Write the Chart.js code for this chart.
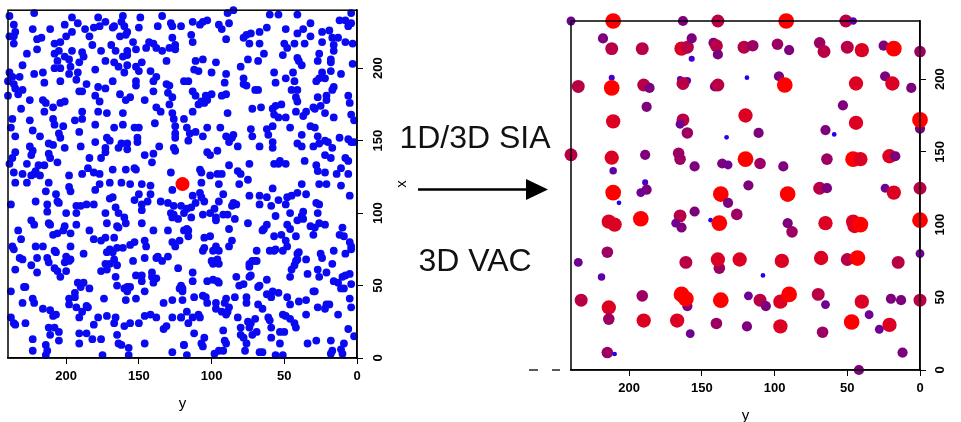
<!DOCTYPE html>
<html>
<head>
<meta charset="utf-8">
<script src="https://cdn.jsdelivr.net/npm/chart.js@4.4.1/dist/chart.umd.min.js"></script>
<style>
  body { margin: 0; width: 961px; height: 422px; position: relative; background: #fff; overflow: hidden; font-family: "Liberation Sans", Arial, sans-serif; }
  canvas { position: absolute; top: 0; }
  .caption { position: absolute; left: 375px; width: 200px; text-align: center; font-size: 32px; line-height: 32px; color: #111; }
</style>
</head>
<body>
<canvas id="freeChart" width="415" height="422" style="left:0"></canvas>
<canvas id="clusterChart" width="471" height="422" style="left:490px"></canvas>
<div class="caption" style="top:121px">1D/3D SIA</div>
<div class="caption" style="top:244px">3D VAC</div>
<svg width="961" height="422" style="position:absolute;left:0;top:0">
  <line x1="418" y1="189.5" x2="528" y2="189.5" stroke="#000" stroke-width="2.6"/>
  <polygon points="526,179 548,189.5 526,200" fill="#000"/>
  <line x1="529" y1="370" x2="538" y2="370" stroke="#000" stroke-width="1.3"/>
  <line x1="552" y1="370" x2="560" y2="370" stroke="#000" stroke-width="1.3"/>
</svg>
<script>
// axis range and ticks (both panels)
const axisMin = 0;
const axisMax = 240;
const tickStep = 50;

// left panel: defects before annealing, [y, x]
const blueDots = [
[239,236],[222,238],[236,230],[196,235],[178,235],[161,236],[149,235],[134,236],[201,230],[192,231],[177,229],[173,232],[167,229],[162,232],[160,229],[128,231],[127,229],[137,229],
[235,225],[239,222],[236,222],[223,227],[211,227],[196,225],[187,227],[181,228],[168,228],[158,225],[150,228],[200,222],[217,221],[220,220],[236,217],[208,217],[204,218],[184,222],[163,222],[159,223],[169,216],[182,216],[154,218],[143,218],[140,217],[127,221],[125,216],
[227,210],[220,213],[208,210],[205,212],[196,212],[189,211],[176,212],[166,212],[158,212],[152,213],[145,214],[138,214],[134,212],[129,214],[125,213],[131,205],[148,204],[158,209],[161,208],[198,206],[191,204],[206,205],[188,208],[201,208],
[230,202],[208,200],[204,200],[197,201],[173,205],[167,204],[164,201],[158,202],[152,201],[150,198],[239,197],[237,194],[232,194],[222,196],[216,197],[198,196],[192,197],[180,199],[160,197],[142,198],[138,194],[129,188],
[240,191],[236,189],[235,186],[230,185],[240,181],[233,182],[215,190],[204,191],[193,192],[186,189],[191,184],[189,184],[178,187],[173,186],[168,191],[163,182],[159,178],[156,180],[152,191],[152,188],[140,191],[140,184],[131,189],[130,183],[127,180],
[225,178],[216,178],[214,176],[209,173],[204,176],[201,177],[180,181],[177,177],[231,172],[215,170],[189,170],[178,170],[172,169],[161,169],[146,178],[138,173],[135,170],[129,175],[127,169],[126,165],
[237,165],[225,164],[209,165],[194,164],[189,165],[180,161],[167,159],[161,161],[153,159],[150,159],[139,162],[125,160],[238,159],[208,161],[202,160],
[235,153],[223,157],[218,153],[205,155],[204,152],[191,156],[180,149],[172,152],[170,150],[162,148],[158,148],[151,152],[151,149],[136,146],[125,155],[125,152],[212,148],[209,147],
[225,146],[223,143],[224,140],[212,141],[211,138],[206,135],[201,145],[190,146],[184,138],[176,138],[173,145],[173,142],[164,145],[158,144],[146,140],[140,141],[141,135],[126,145],[125,143],[237,138],[235,142],
[239,134],[227,134],[219,133],[221,129],[215,133],[236,128],[230,127],[224,126],[222,127],[218,126],[198,126],[189,127],[185,131],[181,128],[177,127],[168,130],[159,130],[153,131],[152,130],[128,128],
[89,238],[85,240],[60,237],[54,237],[41,237],[4,238],[113,232],[108,230],[106,232],[103,233],[95,230],[93,227],[88,231],[114,223],[113,218],[121,229],[90,220],[78,221],[76,223],[73,224],[67,225],[62,228],[74,217],[67,217],[49,227],[41,224],[37,227],[32,231],[32,222],[43,217],[50,217],[48,214],[36,217],[24,225],[19,226],[24,218],[17,221],[13,221],[12,233],[8,233],[6,229],[4,231],[16,216],[8,218],[3,217],[16,212],
[64,210],[51,209],[41,207],[38,202],[40,205],[26,210],[18,206],[18,204],[27,205],[111,205],[106,206],[97,204],[112,199],[109,198],[100,197],[90,196],[80,201],[75,206],[68,205],[57,197],[56,190],[49,193],[44,197],[43,191],[28,191],[26,193],[22,193],[24,197],[18,198],[11,196],[16,187],[17,185],[3,203],[78,193],[91,190],[119,191],[116,191],
[113,184],[111,181],[104,181],[100,182],[103,178],[93,181],[90,182],[78,189],[76,188],[70,185],[68,185],[45,185],[41,185],[42,180],[41,177],[52,175],[27,180],[21,178],[21,181],[6,181],[5,176],[109,175],[107,177],[105,176],[119,165],[113,170],[89,169],[72,172],[66,173],[58,172],[56,174],[57,168],[54,166],[49,166],[42,170],[37,167],[35,170],[30,173],[29,172],[25,174],[22,169],[16,166],[4,168],[2,164],
[117,159],[115,155],[116,150],[111,156],[106,153],[103,159],[94,159],[90,153],[86,152],[85,154],[88,149],[82,146],[73,158],[72,153],[62,158],[61,154],[58,160],[67,146],[58,149],[58,145],[46,159],[38,154],[41,148],[38,146],[32,160],[29,159],[27,153],[30,146],[26,148],[22,150],[20,149],[17,145],[12,152],[6,151],[4,149],[2,149],
[103,142],[101,140],[96,143],[74,134],[57,134],[54,134],[53,136],[49,134],[36,136],[28,133],[27,129],[22,140],[18,138],[22,128],[8,138],[6,136],[11,131],[14,127],[6,127],[108,130],[107,128],[101,126],[96,127],[93,127],[88,133],[82,129],[80,127],[75,123],
[235,121],[227,121],[212,121],[198,118],[197,115],[180,116],[177,120],[170,121],[162,121],[156,120],[148,120],[142,119],[127,116],[238,106],[221,108],[214,115],[213,106],[207,113],[206,108],[205,107],[193,105],[190,105],[186,106],[181,106],[170,110],[168,111],[153,109],[150,113],[148,106],[144,108],[142,113],[135,108],[130,107],[126,105],[121,105],[119,100],
[213,101],[200,100],[193,100],[173,100],[166,104],[164,100],[160,97],[159,93],[172,93],[184,88],[165,91],[164,90],[224,95],[222,92],[212,93],[211,92],[209,85],[206,86],[202,88],[201,91],[197,86],[193,92],[233,88],[140,88],[148,102],[148,93],[128,100],[127,97],[126,99],[123,96],[119,88],[130,88],
[231,82],[237,77],[236,75],[221,77],[216,77],[220,69],[213,69],[208,74],[207,73],[200,70],[197,77],[188,72],[181,82],[176,81],[173,83],[167,83],[165,76],[170,75],[172,73],[168,73],[167,68],[161,76],[156,78],[153,80],[146,81],[145,77],[154,67],[138,69],[137,70],[134,67],[130,70],[127,80],[125,77],[122,81],[146,69],[232,69],[230,68],
[235,61],[224,64],[220,59],[212,66],[208,62],[206,60],[204,56],[201,66],[198,67],[197,68],[200,60],[192,52],[188,52],[184,48],[190,49],[194,45],[176,60],[173,65],[172,61],[170,65],[165,64],[166,56],[165,50],[160,48],[158,49],[158,46],[156,49],[152,57],[148,57],[148,53],[146,46],[141,59],[141,56],[138,55],[140,52],[123,62],[122,48],[120,46],[229,49],[228,49],[238,46],
[230,38],[223,41],[222,38],[216,34],[211,33],[209,29],[207,30],[198,41],[198,37],[194,42],[193,35],[191,28],[189,32],[186,36],[185,35],[178,28],[174,41],[172,29],[166,28],[159,40],[152,41],[146,29],[142,30],[138,28],[133,38],[127,40],[127,28],[121,28],[238,28],[236,24],[235,23],[228,24],
[212,21],[208,21],[211,16],[205,18],[205,12],[191,17],[186,17],[182,13],[181,23],[176,13],[167,24],[165,16],[160,22],[156,24],[150,24],[146,10],[131,22],[133,20],[223,13],[223,5],[214,9],[213,5],[214,2],[191,10],[175,2],[164,10],[162,9],[157,7],[157,2],[127,4],[119,9],
[107,121],[95,120],[81,120],[58,117],[38,120],[26,120],[21,120],[11,119],[113,112],[108,114],[107,111],[111,107],[105,108],[114,104],[98,103],[95,108],[92,113],[85,107],[86,105],[83,106],[89,99],[74,112],[67,112],[62,111],[67,106],[59,105],[54,109],[48,111],[45,112],[49,106],[46,100],[41,114],[35,113],[37,101],[38,98],[28,107],[26,106],[27,100],[56,98],[5,112],[101,100],[106,99],[117,103],[97,97],[92,99],[114,97],
[117,89],[116,88],[116,84],[105,83],[101,84],[97,95],[88,89],[84,96],[75,93],[86,81],[88,77],[97,77],[99,74],[95,74],[64,89],[62,92],[65,88],[57,84],[52,85],[48,92],[46,89],[41,95],[42,84],[37,96],[32,91],[29,90],[30,85],[26,93],[22,92],[10,90],[12,85],[9,84],[5,80],[4,77],[4,75],[49,81],[48,77],[60,74],[57,74],[56,75],[51,74],[69,74],[74,65],[72,67],[69,67],[41,72],[41,68],[35,68],[40,73],[106,74],[105,76],[16,74],[8,72],[25,72],[24,69],
[113,59],[113,53],[103,53],[99,54],[96,53],[95,52],[100,67],[99,65],[98,66],[96,68],[95,65],[83,56],[74,56],[73,57],[68,49],[67,50],[62,54],[46,56],[45,61],[42,67],[43,64],[34,58],[27,61],[26,56],[21,59],[17,65],[16,53],[13,52],[10,56],[8,57],[5,58],[4,51],[9,48],[11,48],[121,50],[120,48],[81,50],[78,51],[70,67],[74,63],[58,46],[54,45],[59,42],[62,44],
[112,42],[106,43],[104,42],[103,38],[97,38],[91,38],[90,41],[88,35],[84,42],[76,42],[76,38],[68,37],[65,34],[48,42],[46,37],[40,39],[35,40],[30,46],[29,46],[21,37],[19,37],[22,34],[27,35],[13,30],[5,41],[4,35],[120,40],[117,32],[121,28],[116,24],[113,28],[109,30],[108,28],[97,34],[93,32],[90,30],[89,32],[82,28],[75,25],[73,24],[70,27],[61,28],[60,26],[51,30],[49,29],[46,27],[43,24],[35,30],[6,20],[2,15],
[112,17],[105,14],[107,10],[106,8],[92,19],[91,12],[90,10],[92,5],[95,5],[80,21],[80,16],[78,14],[74,21],[72,16],[69,18],[76,10],[77,5],[67,4],[65,4],[59,21],[59,14],[53,18],[50,18],[53,10],[42,21],[34,10],[28,12],[18,12],[17,5],[11,6],[9,10],[10,3],[119,9],[117,2],[98,3],[56,2],[51,2],[18,3]
];
const redDot = [[120, 120]];

// right panel: clusters after annealing, [y, x, cluster size]
const clusters = [
[240,240,2.5],[211,240,5],[163,240,3],[139,240,4],
[218,228,3],[212,221,4],[191,221,4],[164,221,4.5],[160,222,4],[157,228,3],[157,214,1.5],[142,225,3],[140,223,4],[139,217,3],[121,222,4],[115,223,3.5],
[212,201,1.5],[235,195,4],[212,194,5],[190,196,4],[186,194,3],[165,200,1.5],[160,199,2],[163,197,4],[141,195,3],[139,196,4],[119,201,1],
[188,181,3],[211,171,4.5],[163,172,4],[165,169,2.5],[160,163,3.5],[133,160,1],[120,175,4.5],[111,163,3],
[240,148,4],[212,146,4.5],[189,148,3],[166,149,3.5],[165,145,3.5],[155,140,3],[136,142,3],[132,141,2.5],[120,145,5],[110,142,3.5],
[211,137,2],[211,122,5],[189,129,1.5],[188,124,3],[192,122,2.5],[137,121,5],[118,127,3],
[92,240,5],[51,240,4],[46,240,2],
[98,224,3.5],[90,220,3],[69,225,3.5],[66,219,4],[50,222,4],[40,220,4.5],[25,223,3],[18,221,5],[0,219,3.5],
[97,202,3],[93,196,5],[44,197,4.5],[24,202,3],[19,197,4.5],[6,194,3],
[53,182,3],[44,170,4.5],[0,166,3],[0,172,5],[65,165,3],[59,162,1],
[64,145,3.5],[94,140,3],[46,145,5],[41,145,4.5],[21,147,4.5],[17,147,3],
[69,125,4],[64,125,3],[91,121,5],[24,125,2.5],[18,122,4.5],[0,125,4],
[207,115,1],[132,115,3],[214,102,4.5],[210,100,4.5],[192,104,5],[165,106,4],[155,109,3],[168,101,2.5],[164,98,3],[144,103,1],[138,101,5],[126,107,3.5],
[215,81,3.5],[235,74,2.5],[219,64,2],[161,74,4],[138,70,3.5],[139,76,4.5],[124,76,4.5],
[233,48,4],[214,43,4.5],[214,35,3.5],[191,51,3.5],[190,34,4.5],[160,44,3],[164,52,5],[161,49,5],[167,34,4.5],[158,25,2.5],[137,48,5],[140,32,3.5],[118,51,2.5],[119,30,3],
[215,12,3.5],[210,11,1],
[91,101,3],[88,95,3.5],[65,101,4.5],[46,102,4.5],[45,99,4.5],[41,100,5],[0,103,5],[0,80,2.5],
[95,75,4.5],[68,77,4.5],[50,76,4],[43,77,5],[15,74,4],[108,65,1],
[110,48,4],[106,44,3],[96,47,4.5],[90,52,5],[70,52,4],[65,45,2.5],[40,47,4.5],[20,49,3],[13,48,3],[0,48,4],
[35,38,2.5],[96,30,4.5],[67,26,3.5],[47,33,5],[21,31,4.5],[28,28,2.5],[12,12,3],[42,0,3]
];

const labelFont = 'bold 13px "Liberation Sans", Arial, sans-serif';
const titleFont = '15px "Liberation Sans", Arial, sans-serif';

// colour ramp by cluster size: blue -> purple -> red
const sizeStops = [[40,0,235],[95,0,170],[125,0,125],[185,0,70],[255,0,0]];
function sizeColor(s) {
    let t = Math.min(Math.max(s - 1, 0), 4);
    let i = Math.min(Math.floor(t), 3);
    let f = t - i;
    let a = sizeStops[i], b = sizeStops[i + 1];
    let c = a.map((v, k) => Math.round(v + (b[k] - v) * f));
    return `rgb(${c[0]},${c[1]},${c[2]})`;
}
function sizeRadius(s) {
    return 1 + 1.37 * s;
}

// box, rotated right-hand tick labels and axis titles
const axisDecor = {
    id: "axisDecor",
    afterDraw(chart, args, opts) {
        let ctx = chart.ctx;
        let a = chart.chartArea;
        let yScale = chart.scales.y;
        ctx.save();
        ctx.strokeStyle = "#000";
        ctx.lineWidth = 1.5;
        ctx.strokeRect(a.left, a.top, a.right - a.left, a.bottom - a.top);

        ctx.fillStyle = "#000";
        ctx.textAlign = "center";
        ctx.textBaseline = "middle";
        ctx.font = labelFont;
        yScale.ticks.forEach(t => {
            let py = yScale.getPixelForValue(t.value);
            ctx.save();
            ctx.translate(a.right + opts.labelGap, py);
            ctx.rotate(-Math.PI / 2);
            ctx.fillText(String(t.value), 0, 0);
            ctx.restore();
        });

        ctx.font = titleFont;
        ctx.fillText(opts.xTitle, (a.left + a.right) / 2, a.bottom + 46);
        if (opts.yTitle) {
            ctx.save();
            ctx.translate(a.right + 45, (a.top + a.bottom) / 2);
            ctx.rotate(-Math.PI / 2);
            ctx.fillText(opts.yTitle, 0, 0);
            ctx.restore();
        }
        ctx.restore();
    }
};

function makeScales(xHeight, yWidth) {
    return {
        x: {
            type: "linear", min: axisMin, max: axisMax, reverse: true,
            border: { color: "#000", width: 1.5 },
            grid: { drawOnChartArea: false, drawTicks: true, tickLength: 6, color: "#000", tickColor: "#000" },
            ticks: { stepSize: tickStep, includeBounds: false, autoSkip: false, maxRotation: 0, padding: 5, color: "#000", font: { family: '"Liberation Sans", Arial, sans-serif', size: 13, weight: "bold" } },
            afterFit: s => { s.height = xHeight; }
        },
        y: {
            type: "linear", position: "right", min: axisMin, max: axisMax,
            border: { color: "#000", width: 1.5 },
            grid: { drawOnChartArea: false, drawTicks: true, tickLength: 6, color: "#000", tickColor: "#000" },
            ticks: { stepSize: tickStep, includeBounds: false, color: "rgba(0,0,0,0)" },
            afterFit: s => { s.width = yWidth; }
        }
    };
}

new Chart(document.getElementById("freeChart"), {
    type: "scatter",
    data: {
        datasets: [
            { data: redDot.map(p => ({ x: p[0], y: p[1] })), pointRadius: 7, pointHoverRadius: 7, backgroundColor: "#ff0000", borderWidth: 0, order: 0, clip: false },
            { data: blueDots.map(p => ({ x: p[0], y: p[1] })), pointRadius: 3.9, pointHoverRadius: 3.9, backgroundColor: "#0a0af2", borderWidth: 0, order: 1, clip: false }
        ]
    },
    options: {
        responsive: false, animation: false, devicePixelRatio: 1,
        layout: { padding: { left: 8, top: 9, right: 0, bottom: 0 } },
        scales: makeScales(64, 58),
        plugins: { legend: { display: false }, tooltip: { enabled: false }, axisDecor: { labelGap: 21, xTitle: "y", yTitle: "x" } }
    },
    plugins: [axisDecor]
});

new Chart(document.getElementById("clusterChart"), {
    type: "scatter",
    data: {
        datasets: [{
            data: clusters.map(p => ({ x: p[0], y: p[1] })),
            pointRadius: c => sizeRadius(clusters[c.dataIndex][2]),
            pointHoverRadius: c => sizeRadius(clusters[c.dataIndex][2]),
            backgroundColor: c => sizeColor(clusters[c.dataIndex][2]),
            borderWidth: 0,
            clip: false
        }]
    },
    options: {
        responsive: false, animation: false, devicePixelRatio: 1,
        layout: { padding: { left: 81, top: 21, right: 0, bottom: 0 } },
        scales: makeScales(52, 41),
        plugins: { legend: { display: false }, tooltip: { enabled: false }, axisDecor: { labelGap: 20, xTitle: "y" } }
    },
    plugins: [axisDecor]
});
</script>
</body>
</html>
